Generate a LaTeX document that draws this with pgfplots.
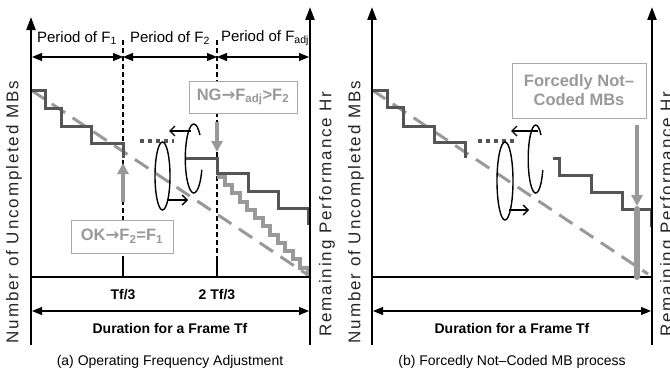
\documentclass[border=0pt]{standalone}
\usepackage{fontspec}
\setmainfont{Liberation Sans}
\newfontfamily\spacedfont[LetterSpace=11]{Liberation Sans}
\newfontfamily\dejavu{DejaVu Sans}
\newcommand\rarr{{\dejavu →}}
\usepackage{pgfplots}
\pgfplotsset{compat=1.18}
\usetikzlibrary{arrows.meta}
\definecolor{dk}{HTML}{555555}
\definecolor{lg}{HTML}{999999}
\definecolor{bx}{HTML}{AAAAAA}
\tikzset{
  axarrow/.style={black, line width=2.2bp, -{Triangle[length=13bp,width=9bp]}},
  dblarrow/.style={black, line width=1.1bp, {Triangle[length=10bp,width=8bp]}-{Triangle[length=10bp,width=8bp]}},
  steps/.style={dk, line width=3bp, line join=miter},
  ideal/.style={lg, line width=3bp, dash pattern=on 16bp off 9bp},
  vdash/.style={black, line width=1.1bp, dash pattern=on 5bp off 3bp},
  garrow/.style={lg, line width=4.5bp, -{Triangle[length=11bp,width=11bp]}},
  curl/.style={black, line width=1.4bp},
  smallarr/.style={black, line width=1.4bp, -{Straight Barb[length=5bp,width=10bp]}},
  ylab/.style={rotate=90, font=\spacedfont\fontsize{17bp}{20bp}\selectfont, text=black!85},
  boxtxt/.style={draw=bx, line width=1bp, fill=white, text=lg, font=\bfseries\fontsize{16.5bp}{20bp}\selectfont},
}
\begin{document}
\begin{tikzpicture}
\begin{axis}[x=1bp, y=1bp, xmin=0, xmax=670, ymin=-374, ymax=0,
  axis lines=none, ticks=none, clip=false]
\coordinate (bl) at (axis cs:0,-374);
\coordinate (tr) at (axis cs:670,0);
% ================= panel (a) =================
\addplot[vdash] coordinates {(123,-40) (123,-257)};
\addplot[vdash] coordinates {(217,-40) (217,-257)};
\addplot[ideal] coordinates {(31,-90) (308,-275)};
\addplot[steps] coordinates {(31,-90) (45,-90) (45,-108) (61,-108) (61,-126) (91,-126) (91,-143) (123,-143) (123,-158)};
\addplot[dk, line width=3.5bp, dash pattern=on 4bp off 4bp] coordinates {(140,-141) (174,-141)};
\addplot[steps] coordinates {(185,-158) (217,-158) (217,-173) (248,-173) (248,-191) (278,-191) (278,-208) (308,-208) (308,-225)};
\addplot[lg, line width=4.5bp, line join=miter] coordinates {(217,-177) (225,-177) (225,-185) (232,-185) (232,-193) (240,-193) (240,-202) (247,-202) (247,-210) (255,-210) (255,-218) (263,-218) (263,-226) (270,-226) (270,-235) (278,-235) (278,-243) (285,-243) (285,-251) (293,-251) (293,-259) (300,-259) (300,-268) (308,-268) (308,-276)};
\addplot[axarrow] coordinates {(31,-345) (31,-17)};
\addplot[axarrow] coordinates {(310,-345) (310,-7)};
\addplot[black, line width=2bp] coordinates {(31,-277) (310,-277)};
\addplot[black, line width=2bp] coordinates {(123,-257) (123,-277)};
\addplot[black, line width=2bp] coordinates {(217,-257) (217,-277)};
\addplot[dblarrow] coordinates {(32,-57) (123,-57)};
\addplot[dblarrow] coordinates {(123,-57) (217,-57)};
\addplot[dblarrow] coordinates {(217,-57) (309,-57)};
\addplot[dblarrow] coordinates {(32,-311) (309,-311)};
\addplot[garrow] coordinates {(123,-202) (123,-163)};
\addplot[garrow] coordinates {(217,-122) (217,-152)};
\draw[curl] (axis cs:200,-135) arc[start angle=43, end angle=341, x radius=8.5bp, y radius=34.5bp];
\draw[curl] (axis cs:162.5,-176) ellipse[x radius=7.5bp, y radius=34bp];
\draw[smallarr] (axis cs:191,-131) -- (axis cs:169,-131);
\draw[smallarr] (axis cs:168,-200) -- (axis cs:188,-200);
\node[boxtxt, minimum width=108bp, minimum height=32bp, inner sep=0pt] at (axis cs:243,-97) {NG\rarr F\textsubscript{adj}>F\textsubscript{2}};
\node[boxtxt, minimum width=102bp, minimum height=33bp, inner sep=0pt] at (axis cs:122,-236.5) {OK\rarr F\textsubscript{2}=F\textsubscript{1}};
\node[font=\fontsize{15bp}{18bp}\selectfont] at (axis cs:77,-38) {Period of F\textsubscript{1}};
\node[font=\fontsize{15bp}{18bp}\selectfont] at (axis cs:170,-38) {Period of F\textsubscript{2}};
\node[font=\fontsize{15bp}{18bp}\selectfont] at (axis cs:265,-38) {Period of F\textsubscript{adj}};
\node[font=\bfseries\fontsize{14bp}{17bp}\selectfont] at (axis cs:123,-295) {Tf/3};
\node[font=\bfseries\fontsize{14bp}{17bp}\selectfont] at (axis cs:217,-295) {2 Tf/3};
\node[font=\bfseries\fontsize{14bp}{17bp}\selectfont] at (axis cs:170,-328) {Duration for a Frame Tf};
\node[font=\fontsize{14bp}{17bp}\selectfont] at (axis cs:170,-362) {(a) Operating Frequency Adjustment};
\node[ylab] at (axis cs:14,-212) {Number of Uncompleted MBs};
\node[ylab] at (axis cs:327,-214) {Remaining Performance Hr};
% ================= panel (b) =================
\addplot[ideal] coordinates {(372,-90) (648,-274)};
\addplot[steps] coordinates {(372,-90) (387,-90) (387,-107) (403,-107) (403,-126) (434,-126) (434,-142) (465,-142) (465,-158)};
\addplot[dk, line width=3.5bp, dash pattern=on 4bp off 4bp] coordinates {(478,-141) (514,-141)};
\addplot[steps] coordinates {(553,-158) (559,-158) (559,-175) (591,-175) (591,-192) (622,-192) (622,-209) (651,-209) (651,-227)};
\addplot[axarrow] coordinates {(372,-345) (372,-7)};
\addplot[axarrow] coordinates {(652,-345) (652,-7)};
\addplot[black, line width=2bp] coordinates {(372,-277) (652,-277)};
\addplot[dblarrow] coordinates {(373,-311) (651,-311)};
\addplot[lg, line width=6bp, line cap=round] coordinates {(637,-209) (637,-277)};
\addplot[garrow] coordinates {(637,-125) (637,-206)};
\draw[curl] (axis cs:541,-135) arc[start angle=45, end angle=341, x radius=7.5bp, y radius=34bp];
\draw[curl] (axis cs:505,-181) ellipse[x radius=8bp, y radius=39bp];
\draw[smallarr] (axis cs:538,-131) -- (axis cs:511,-131);
\draw[smallarr] (axis cs:509,-210) -- (axis cs:529,-210);
\node[boxtxt, minimum width=134bp, minimum height=55bp, inner sep=0pt, align=center] at (axis cs:579,-90.5) {Forcedly Not–\\[-1bp]Coded MBs};
\node[font=\bfseries\fontsize{14bp}{17bp}\selectfont] at (axis cs:512,-328) {Duration for a Frame Tf};
\node[font=\fontsize{14bp}{17bp}\selectfont] at (axis cs:512,-362) {(b) Forcedly Not–Coded MB process};
\node[ylab] at (axis cs:356,-212) {Number of Uncompleted MBs};
\node[ylab] at (axis cs:668,-214) {Remaining Performance Hr};
\end{axis}
\pgfresetboundingbox
\useasboundingbox (bl) rectangle (tr);
\end{tikzpicture}
\end{document}
